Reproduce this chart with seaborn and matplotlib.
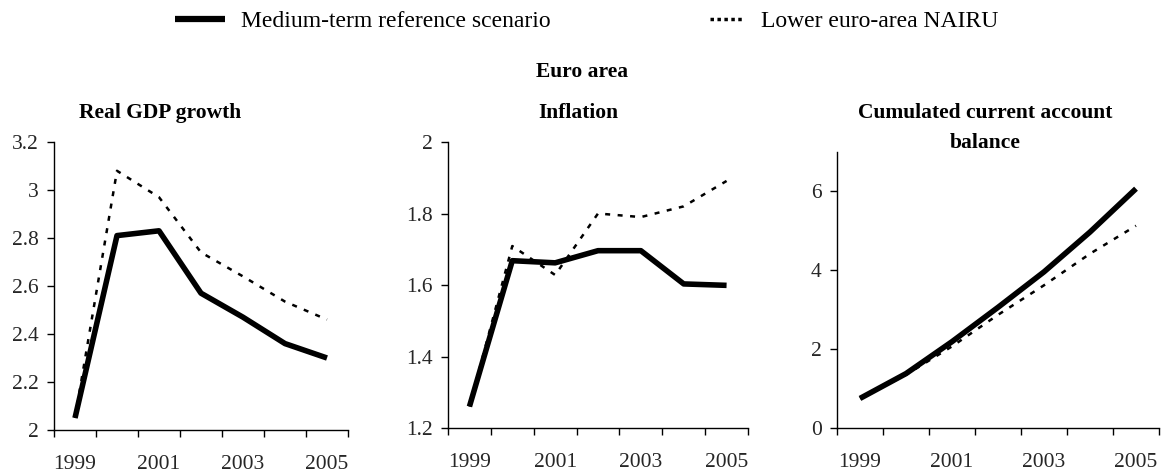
import numpy as np
import matplotlib
matplotlib.use("Agg")
import matplotlib.pyplot as plt
from matplotlib.lines import Line2D
from matplotlib.ticker import FuncFormatter
import seaborn as sns
import pandas as pd

years = [1999, 2000, 2001, 2002, 2003, 2004, 2005]
year_labels = ["1999", "2001", "2003", "2005"]

gdp_ref = [2.05, 2.81, 2.83, 2.57, 2.47, 2.36, 2.30]
gdp_nairu = [2.05, 3.08, 2.97, 2.74, 2.64, 2.535, 2.46]

infl_ref = [1.26, 1.668, 1.662, 1.696, 1.696, 1.603, 1.599]
infl_nairu = [1.26, 1.709, 1.628, 1.80, 1.79, 1.82, 1.891]

ca_ref = [0.75, 1.38, 2.19, 3.06, 3.96, 4.97, 6.07]
ca_nairu = [0.75, 1.35, 2.07, 2.87, 3.62, 4.42, 5.13]

series_names = ["Medium-term reference scenario", "Lower euro-area NAIRU"]

sns.set_style("ticks")
plt.rcParams["font.family"] = ["Liberation Serif", "DejaVu Serif"]
plt.rcParams["text.color"] = "black"

W, H = 1163, 475
fig = plt.figure(figsize=(W / 100, H / 100), dpi=100)

panels = [
    # (ref, alt, ylim, yticks, axes box in pixels: x0, x1, ytop, ybottom)
    (gdp_ref, gdp_nairu, (2.0, 3.2), np.arange(2.0, 3.21, 0.2), (54, 348, 142, 430)),
    (infl_ref, infl_nairu, (1.2, 2.0), np.arange(1.2, 2.01, 0.2), (448, 748, 142, 428)),
    (ca_ref, ca_nairu, (0, 7), [0, 2, 4, 6], (837, 1159, 152, 428)),
]

solid_lw = 4.0
dot_lw = 1.8

for ref, alt, ylim, yticks, box in panels:
    x0, x1, yt, yb = box
    ax = fig.add_axes([x0 / W, (H - yb) / H, (x1 - x0) / W, (yb - yt) / H])
    df = pd.DataFrame({"year": years, "ref": ref, "alt": alt})
    sns.lineplot(data=df, x="year", y="alt", ax=ax, color="black",
                 lw=dot_lw)
    ax.lines[-1].set_dashes((2.0, 3.0))
    sns.lineplot(data=df, x="year", y="ref", ax=ax, color="black",
                 lw=solid_lw)
    ax.lines[-1].set_solid_capstyle("butt")
    ax.set_xlim(1998.5, 2005.5)
    ax.set_ylim(*ylim)
    ax.set_xlabel("")
    ax.set_ylabel("")
    ax.set_xticks(np.arange(1998.5, 2005.6, 1.0))
    ax.set_xticklabels([])
    ax.set_xticks([1999, 2001, 2003, 2005], year_labels, minor=True)
    ax.tick_params(axis="x", which="minor", length=0, pad=18, labelsize=15.5)
    ax.tick_params(axis="x", which="major", length=5, width=1, color="black",
                   direction="out")
    ax.set_yticks(yticks)
    ax.yaxis.set_major_formatter(FuncFormatter(lambda v, p: f"{round(v, 2):g}"))
    ax.tick_params(axis="y", length=5, width=1, color="black", pad=6,
                   labelsize=15.5)
    for s in ["top", "right"]:
        ax.spines[s].set_visible(False)
    for s in ["left", "bottom"]:
        ax.spines[s].set_color("black")
        ax.spines[s].set_linewidth(1)
    ax.patch.set_alpha(0)

# Titles
fig.text(582 / W, 1 - 72 / H, "Euro area", ha="center", va="center",
         fontsize=15.5, fontweight="bold")
fig.text(160 / W, 1 - 113 / H, "Real GDP growth", ha="center", va="center",
         fontsize=15.5, fontweight="bold")
fig.text(578 / W, 1 - 113 / H, "Inflation", ha="center", va="center",
         fontsize=15.5, fontweight="bold")
fig.text(985 / W, 1 - 128 / H, "Cumulated current account\nbalance",
         ha="center", va="center", fontsize=15.5, fontweight="bold",
         linespacing=1.65)

# Legend (two separate entries as in the original)
h_ref = Line2D([], [], color="black", lw=4.5, solid_capstyle="butt")
h_alt = Line2D([], [], color="black", lw=2.5, linestyle=(0, (1, 1)))
fig.legend(handles=[h_ref], labels=[series_names[0]], loc="center left",
           bbox_to_anchor=(175 / W, 1 - 21 / H), frameon=False,
           handlelength=2.1, handletextpad=0.7, borderpad=0,
           borderaxespad=0, fontsize=17)
fig.legend(handles=[h_alt], labels=[series_names[1]], loc="center left",
           bbox_to_anchor=(710 / W, 1 - 21 / H), frameon=False,
           handlelength=1.45, handletextpad=0.7, borderpad=0,
           borderaxespad=0, fontsize=17)

fig.savefig("out.png", dpi=100, facecolor="white")
